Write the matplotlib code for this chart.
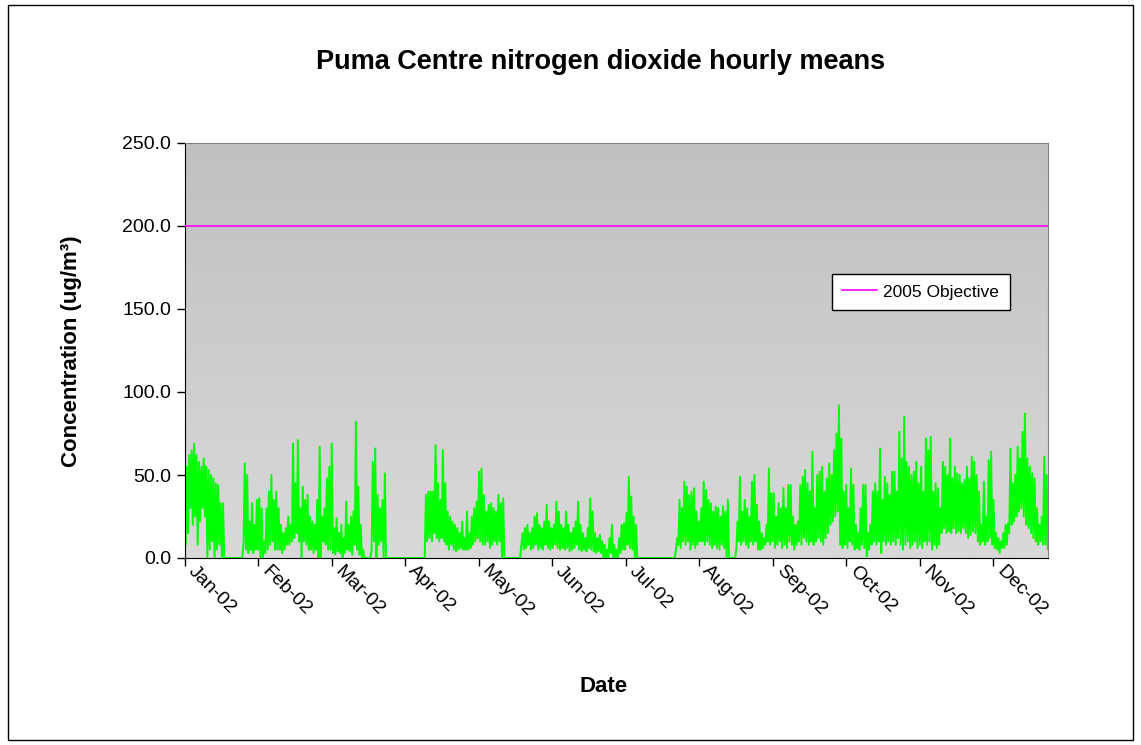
import numpy as np
import matplotlib
matplotlib.use("Agg")
import matplotlib.pyplot as plt
from matplotlib.colors import LinearSegmentedColormap
from matplotlib.patches import Rectangle
from matplotlib.transforms import ScaledTranslation

plt.rcParams['font.family'] = ['Liberation Sans', 'DejaVu Sans']

# month labels (one tick every 730 hours, ~30.4 days)
months = ['Jan-02', 'Feb-02', 'Mar-02', 'Apr-02', 'May-02', 'Jun-02',
          'Jul-02', 'Aug-02', 'Sep-02', 'Oct-02', 'Nov-02', 'Dec-02']
y_ticks = [0, 50, 100, 150, 200, 250]
objective = 200.0

# daily highs / lows of the hourly NO2 trace (ug/m3)
daily_high = (
    [55, 62, 65, 69, 62, 58, 55, 60, 55, 53, 50, 48, 45, 44, 33, 33, 0]
    + [0] * 7
    + [57, 50, 22, 33, 20, 35, 36, 30, 10]
    + [30, 40, 50, 35, 40, 30, 20, 15, 18, 25, 20, 69, 45, 71, 30, 43, 35, 38,
       25, 22, 20, 35, 67, 25, 30, 48, 55, 69]
    + [18, 24, 15, 20, 12, 34, 20, 25, 28, 82, 43, 20, 5]
    + [0] * 3
    + [58, 66, 38, 30, 35, 51]
    + [0] * 16
    + [38, 40, 40, 40, 68, 45, 35, 65, 45, 28, 25, 22, 20, 18, 15, 22, 12, 28,
       15, 25, 30, 34, 52, 54, 38, 28, 32, 33, 30, 28, 38, 33, 36]
    + [0] * 7
    + [15, 18, 20, 15, 18, 25, 27, 20, 18, 22, 32, 22, 18, 20, 34, 28, 20, 18,
       28, 20, 15, 18, 22, 34, 20, 15, 12, 18, 36, 28, 15, 12, 14, 10, 8, 5,
       12, 20, 8, 5, 12, 20, 21, 27, 49, 37, 25, 20]
    + [0] * 16
    + [12, 35, 30, 46, 43, 38, 40, 42, 28, 22, 30, 46, 41, 35, 33, 28, 31, 30,
       25, 31, 28, 35, 0, 0, 0, 22, 49, 28, 35, 30, 25, 46, 50, 32]
    + [22, 15, 12, 20, 54, 39, 39, 25, 33, 30, 42, 30, 44, 44, 25, 20, 22, 44,
       49, 53, 45, 40, 64, 30, 50, 52, 55, 40, 48, 57, 50, 65, 75, 92, 72, 40,
       44, 30, 54, 44, 20, 15, 30, 44, 44, 15, 20, 40, 45, 40, 66, 35, 49, 45,
       38, 52, 52, 40, 76, 60]
    + [85, 58, 55, 50, 52, 58, 45, 55, 40, 72, 65, 73, 40, 45, 42, 30, 58, 55,
       50, 72, 48, 55, 51, 50, 45, 47, 55, 48, 61, 58, 50, 40, 20, 46, 25, 59,
       64, 35, 15, 12, 10, 15, 20, 21, 66, 45, 50, 67, 60, 76, 87, 60, 55, 51,
       48, 30, 20, 25, 61, 50, 40]
)
daily_low = (
    [8, 15, 30, 20, 25, 8, 22, 30, 25, 0, 5, 10, 0, 5, 8, 0, 0]
    + [0] * 7
    + [10, 5, 3, 5, 3, 5, 5, 0, 0]
    + [3, 5, 8, 10, 5, 5, 5, 3, 5, 8, 8, 10, 12, 15, 10, 0, 10, 8, 5, 5, 3, 5,
       0, 0, 10, 8, 5, 5]
    + [3, 2, 4, 3, 0, 3, 5, 4, 2, 8, 5, 2, 0]
    + [0] * 3
    + [5, 10, 0, 8, 10, 0]
    + [0] * 16
    + [0, 10, 12, 10, 15, 12, 10, 12, 10, 8, 5, 8, 5, 4, 5, 6, 5, 5, 5, 6, 8,
       10, 12, 10, 8, 8, 10, 6, 8, 10, 8, 10, 0]
    + [0] * 7
    + [8, 5, 6, 8, 5, 6, 8, 5, 6, 5, 8, 6, 5, 6, 8, 6, 5, 6, 5, 6, 4, 5, 6, 8,
       5, 4, 5, 4, 6, 5, 4, 3, 4, 3, 0, 0, 0, 3, 0, 0, 0, 3, 5, 5, 8, 6, 5, 0]
    + [0] * 16
    + [5, 8, 6, 10, 8, 10, 5, 8, 6, 8, 10, 10, 8, 10, 8, 6, 8, 6, 5, 8, 6, 0,
       0, 0, 0, 5, 10, 8, 10, 8, 6, 10, 8, 10]
    + [5, 5, 6, 8, 10, 8, 10, 6, 8, 10, 6, 8, 6, 10, 8, 5, 8, 10, 8, 12, 10, 8,
       10, 8, 10, 12, 10, 8, 12, 15, 20, 22, 25, 28, 8, 6, 8, 6, 10, 8, 5, 6, 5,
       8, 6, 1, 5, 8, 10, 8, 10, 3, 10, 8, 10, 8, 10, 8, 12, 8]
    + [5, 8, 10, 6, 8, 10, 6, 8, 6, 10, 8, 10, 5, 8, 6, 8, 15, 18, 15, 16, 15,
       18, 15, 16, 15, 18, 15, 12, 14, 16, 15, 10, 8, 10, 8, 10, 12, 8, 6, 5, 3,
       6, 6, 8, 15, 20, 22, 25, 28, 30, 25, 20, 18, 15, 12, 10, 8, 10, 8, 8, 5]
)


def main():
    W, H = 1141, 745
    days = np.arange(len(daily_high))
    x = np.column_stack([days + 0.25, days + 0.75]).ravel()
    y = np.column_stack([daily_low, daily_high]).ravel()

    fig = plt.figure(figsize=(W / 100, H / 100), dpi=100)
    fig.patches.append(Rectangle((8 / W, 5 / H), 1125 / W, 735 / H,
                                 transform=fig.transFigure, fill=False,
                                 edgecolor='black', lw=1.0))

    ax = fig.add_axes([185 / W, 1 - 558 / H, 863 / W, 415 / H])

    # grey gradient plot area (darker at the top)
    bg = LinearSegmentedColormap.from_list('bg', ['#d9d9d9', '#c0c0c0'])
    ax.imshow(np.linspace(0, 1, 256).reshape(-1, 1), extent=[0, 1, 0, 1],
              transform=ax.transAxes, cmap=bg, aspect='auto', origin='lower',
              zorder=0)

    ax.plot(x, y, color='#00ff00', lw=1.4, zorder=2)
    ax.axhline(objective, color='#ff00ff', lw=1.2, zorder=3,
               label='2005 Objective')

    ax.set_xlim(0, 357.3)
    ax.set_ylim(0, 250)

    ax.set_yticks(y_ticks)
    ax.set_yticklabels([f'{v:.1f}' for v in y_ticks], fontsize=14)
    ax.set_xticks(np.arange(len(months)) * 365 / 12)
    ax.set_xticklabels(months, fontsize=14, rotation=-45, ha='left',
                       va='top', rotation_mode='anchor')
    ax.tick_params(axis='both', direction='out', length=6, width=1,
                   color='black')
    ax.tick_params(axis='y', pad=4)
    ax.tick_params(axis='x', pad=0)
    shift = ScaledTranslation(12 / 100, 4 / 100, fig.dpi_scale_trans)
    for lbl in ax.get_xticklabels():
        lbl.set_transform(lbl.get_transform() + shift)

    for side in ['left', 'bottom']:
        ax.spines[side].set_color('black')
    for side in ['top', 'right']:
        ax.spines[side].set_color('#808080')

    leg = ax.legend(loc='upper left', bbox_to_anchor=(832 / W, 1 - 274 / H),
                    bbox_transform=fig.transFigure, frameon=True,
                    fancybox=False, framealpha=1, edgecolor='black',
                    fontsize=12.5, handlelength=2.0, handletextpad=0.35,
                    borderpad=0.6, borderaxespad=0)
    leg.get_frame().set_linewidth(1.0)

    fig.text(601 / W, 1 - 62 / H, 'Puma Centre nitrogen dioxide hourly means',
             ha='center', va='center', fontsize=19.5, fontweight='bold')
    fig.text(604 / W, 1 - 686 / H, 'Date', ha='center', va='center',
             fontsize=16, fontweight='bold')
    fig.text(72 / W, 1 - 351 / H, 'Concentration (ug/m³)', ha='center',
             va='center', rotation=90, fontsize=16, fontweight='bold')

    fig.savefig('out.png', dpi=100)


if __name__ == "__main__":
    main()
